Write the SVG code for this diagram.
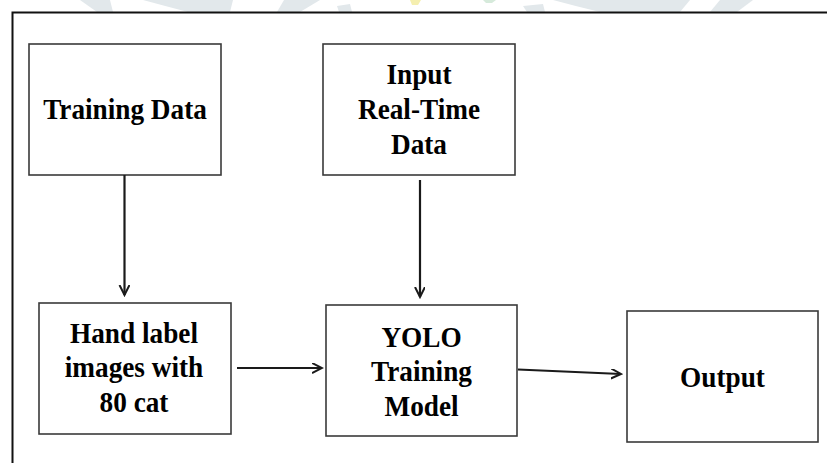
<svg xmlns="http://www.w3.org/2000/svg" width="827" height="463" viewBox="0 0 827 463">
  <style>
    .box { fill: #ffffff; stroke: #3a3a3a; stroke-width: 1.6; }
    .lbl { font-family: "Liberation Serif", "Times New Roman", serif; font-weight: bold; font-size: 29px; fill: #000000; text-anchor: middle; }
    .wire { fill: none; stroke: #1a1a1a; stroke-width: 2.2; }
    .mark { fill: #e2e8eb; }
  </style>
  <defs>
    <marker id="head" markerUnits="userSpaceOnUse" markerWidth="12" markerHeight="12" refX="10" refY="5" orient="auto">
      <path d="M0,0 L10,5 L0,10" fill="none" stroke="#1a1a1a" stroke-width="2"/>
    </marker>
  </defs>

  <rect width="827" height="463" fill="#ffffff"/>

  <!-- faint background emblem above the frame -->
  <g id="emblem">
    <polygon class="mark" points="80,0 110,0 113,12 97,12"/>
    <path class="mark" d="M143,0 H233 L230,12 H188 Q165,6 143,0 Z"/>
    <polygon class="mark" points="284,0 320,0 300,12 277,12"/>
    <polygon class="mark" points="337,6 350,4 352,12 339,12"/>
    <polygon points="410,0 421,0 418,5 412,5" fill="#f5efb0"/>
    <polygon points="483,0 496,0 492,3 486,3" fill="#d6eadb"/>
    <polygon class="mark" points="523,6 543,4 545,12 527,12"/>
    <path class="mark" d="M553,0 H690 L680,12 H600 Q575,6 553,0 Z"/>
    <polygon class="mark" points="720,0 753,0 737,12 710,12"/>
  </g>

  <!-- outer frame, running off the right and bottom edges -->
  <path d="M12.5,463 V12.5 H827" fill="none" stroke="#111111" stroke-width="2"/>

  <!-- labels are set in a narrowed serif: each text block is squeezed horizontally about its centre -->
  <g id="training-data">
    <rect class="box" x="29" y="44" width="192" height="131"/>
    <g transform="translate(125,0) scale(0.94,1)">
      <text class="lbl" x="0" y="119">Training Data</text>
    </g>
  </g>

  <g id="input-data">
    <rect class="box" x="323" y="44" width="192" height="131"/>
    <g transform="translate(419,0) scale(0.94,1)">
      <text class="lbl" x="0" y="84">Input</text>
      <text class="lbl" x="0" y="119">Real-Time</text>
      <text class="lbl" x="0" y="154">Data</text>
    </g>
  </g>

  <g id="hand-label">
    <rect class="box" x="39" y="303" width="192" height="131"/>
    <g transform="translate(134,0) scale(0.94,1)">
      <text class="lbl" x="0" y="343">Hand label</text>
      <text class="lbl" x="0" y="377.5">images with</text>
      <text class="lbl" x="0" y="412">80 cat</text>
    </g>
  </g>

  <g id="yolo-model">
    <rect class="box" x="326" y="305" width="191" height="131"/>
    <g transform="translate(421.5,0) scale(0.94,1)">
      <text class="lbl" x="0" y="347">YOLO</text>
      <text class="lbl" x="0" y="381.5">Training</text>
      <text class="lbl" x="0" y="416">Model</text>
    </g>
  </g>

  <g id="output">
    <rect class="box" x="627" y="311" width="191" height="131"/>
    <g transform="translate(722.5,0) scale(0.94,1)">
      <text class="lbl" x="0" y="387">Output</text>
    </g>
  </g>

  <g id="connectors">
    <line class="wire" x1="124.5" y1="175" x2="124.5" y2="295" marker-end="url(#head)"/>
    <line class="wire" x1="420" y1="180" x2="420" y2="297" marker-end="url(#head)"/>
    <line class="wire" x1="237" y1="368" x2="322" y2="368" marker-end="url(#head)"/>
    <line class="wire" x1="518" y1="369.5" x2="621" y2="374" marker-end="url(#head)"/>
  </g>
</svg>
